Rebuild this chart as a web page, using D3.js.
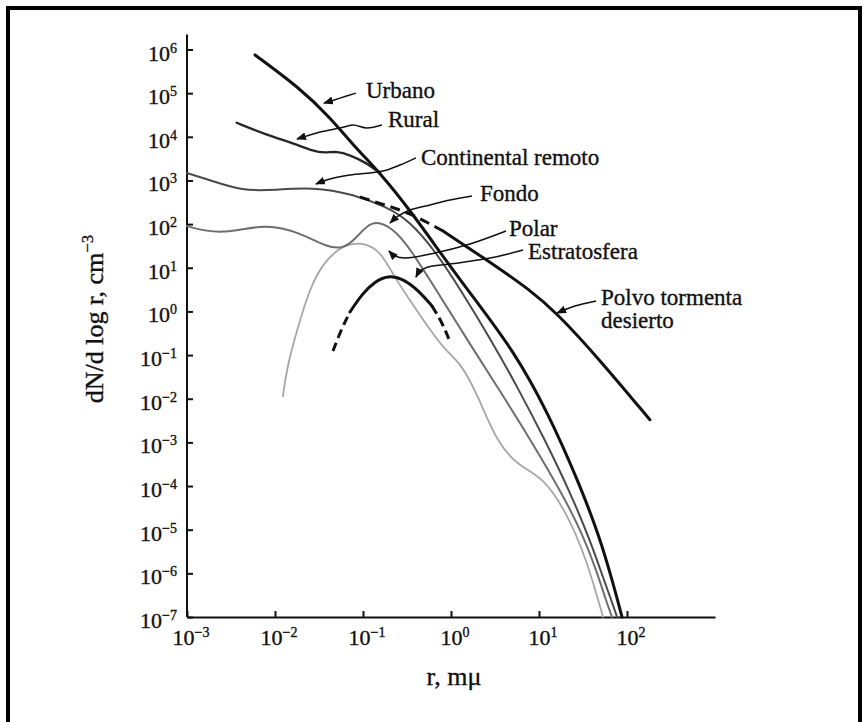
<!DOCTYPE html>
<html>
<head>
<meta charset="utf-8">
<script src="https://cdn.jsdelivr.net/npm/d3@7"></script>
<style>
  body { margin: 0; background: #fff; }
  text { font-family: "Liberation Serif", "Times New Roman", serif; fill: #111; stroke: #111; stroke-width: 0.35; }
</style>
</head>
<body>
<svg id="chart" width="866" height="722"></svg>
<script>
// tick exponents (labels are 10^e)
const xExponents = [-3, -2, -1, 0, 1, 2];
const yExponents = [6, 5, 4, 3, 2, 1, 0, -1, -2, -3, -4, -5, -6, -7];

// series: [r (mμ), dN/dlog r (cm^-3)]
const urbano = [[0.00593, 7.5e5], [0.0192, 1.3e5], [0.0422, 2.8e4], [0.081, 5.8e3], [0.156, 1.5e3],
  [0.342, 210], [0.90, 13.5], [1.97, 1.64], [5.07, 0.13], [12.3, 5.5e-3], [29.2, 1.05e-4],
  [49.3, 6.4e-6], [69.3, 6e-7], [87.8, 1e-7]];
const rural = [[0.00367, 2.1e4], [0.0081, 1.1e4], [0.016, 7.2e3], [0.027, 4.7e3], [0.037, 4.26e3],
  [0.0507, 4.7e3], [0.0711, 3.83e3], [0.105, 2.65e3], [0.156, 1.5e3]];
const continental = [[0.001, 1480], [0.00182, 1020], [0.00433, 573], [0.0095, 603], [0.027, 707],
  [0.0769, 490], [0.187, 246], [0.338, 118], [0.676, 23], [1.33, 2.78], [2.77, 0.246], [5.77, 0.0176],
  [11.7, 1.13e-3], [22.5, 7.3e-5], [38, 5.8e-6], [56.2, 6e-7], [69.3, 1.9e-7], [77, 1e-7]];
const fondo = [[0.001, 90], [0.00237, 56], [0.0081, 106], [0.0192, 62.5], [0.039, 30], [0.0577, 27],
  [0.081, 43], [0.126, 135], [0.219, 81], [0.342, 28.3], [0.75, 2.25], [1.64, 0.179], [3.8, 0.0128],
  [8.55, 9.2e-4], [18.7, 6.2e-5], [31.6, 7.5e-6], [45.6, 1.07e-6], [57.7, 2.4e-7], [67.6, 1e-7]];
const polar = [[0.0123, 0.0115], [0.0137, 0.053], [0.0178, 0.375], [0.025, 3.6], [0.037, 15],
  [0.0624, 35], [0.0975, 38], [0.156, 25.5], [0.231, 5.8], [0.342, 1.8], [0.577, 0.375], [0.9, 0.117],
  [1.26, 0.069], [1.97, 0.0135], [3.33, 9.7e-4], [6.1, 2.7e-4], [11.1, 1.6e-4], [20.8, 2.4e-5],
  [35, 2e-6], [53.4, 1e-7]];
const estratosfera = [[0.0456, 0.124], [0.0562, 0.375], [0.0711, 0.97], [0.0975, 2.5], [0.137, 4.9],
  [0.192, 6.6], [0.277, 5.8], [0.422, 3.1], [0.608, 1.33], [0.79, 0.57], [0.975, 0.2]];
const polvo = [[0.0925, 418], [0.178, 274], [0.342, 180], [0.811, 69.5], [2.77, 13.5], [7.9, 3.1],
  [16, 0.92], [49.3, 0.077], [182, 3.3e-3]];

// where the dashed (uncertain) parts stop / start
const estratosferaSolid = [0.0711, 0.608];
const polvoSolidFrom = 0.811;

// annotation text anchors and leader lines (data coords, arrow at the last point)
const labelText = ['Urbano', 'Rural', 'Continental remoto', 'Fondo', 'Polar', 'Estratosfera', 'Polvo tormenta', 'desierto'];
const labelAt = [[0.108, 7.7e4], [0.192, 1.67e4], [0.456, 2.26e3], [2.14, 338], [4.56, 53.3], [7.5, 15.8], [50.7, 1.4], [50.7, 0.417]];
const leaders = [
  [[0.0832, 1.0e5], [0.0548, 7.7e4], [0.036, 5.9e4]],
  [[0.164, 1.86e4], [0.111, 1.59e4], [0.0769, 1.86e4], [0.0548, 1.59e4], [0.0325, 1.29e4], [0.0178, 8.9e3]],
  [[0.40, 3.3e3], [0.263, 2.26e3], [0.169, 1.65e3], [0.0711, 1.33e3], [0.0422, 1.08e3], [0.0292, 830]],
  [[1.73, 440], [0.975, 357], [0.577, 274], [0.342, 210], [0.25, 153], [0.203, 106]],
  [[4.22, 69.5], [1.64, 35], [0.658, 21.8], [0.30, 16.7], [0.231, 18.6], [0.197, 24.2]],
  [[6.58, 25.5], [2.77, 16.7], [0.975, 12.2], [0.548, 10.4], [0.445, 8.4], [0.40, 6.1]],
  [[44.5, 1.73], [25.6, 1.33], [16.0, 0.92]]
];

const svg = d3.select('#chart');

// page frame
svg.append('rect')
  .attr('x', 8).attr('y', 8)
  .attr('width', 852).attr('height', 730)
  .attr('fill', 'none').attr('stroke', '#000').attr('stroke-width', 4);

const x = d3.scaleLog().domain([1e-3, 1e3]).range([187, 715]);
const y = d3.scaleLog().domain([1e-7, 1e6]).range([617, 49.5]);

// axes
const xAxis = svg.append('g')
  .attr('transform', `translate(0,${y(1e-7)})`)
  .call(d3.axisTop(x).tickValues(xExponents.map(e => 10 ** e)).tickFormat('').tickSizeInner(6).tickSizeOuter(0));
const yAxis = svg.append('g')
  .attr('transform', `translate(${x(1e-3)},0)`)
  .call(d3.axisRight(y).tickValues(yExponents.map(e => 10 ** e)).tickFormat('').tickSizeInner(6).tickSizeOuter(0));
yAxis.select('.domain').remove();
yAxis.append('line')
  .attr('y1', y(2.2e6)).attr('y2', y(1e-7))
  .attr('stroke', '#000');
[xAxis, yAxis].forEach(g => {
  g.selectAll('path, line').attr('stroke', '#111').attr('stroke-width', 2);
});

function powLabel (sel, e) {
  sel.append('tspan').text('10');
  sel.append('tspan')
    .attr('dy', -8)
    .attr('font-size', 14)
    .text(e < 0 ? '\u2212' + Math.abs(e) : String(e));
}

svg.append('g').selectAll('text')
  .data(xExponents)
  .join('text')
  .attr('x', e => x(10 ** e) + 4)
  .attr('y', y(1e-7) + 28)
  .attr('text-anchor', 'middle')
  .attr('font-size', 22)
  .each(function (e) { powLabel(d3.select(this), e); });

svg.append('g').selectAll('text')
  .data(yExponents)
  .join('text')
  .attr('x', x(1e-3) - 10)
  .attr('y', e => y(10 ** e) + 11)
  .attr('text-anchor', 'end')
  .attr('font-size', 22)
  .each(function (e) { powLabel(d3.select(this), e); });

// axis titles
svg.append('text')
  .attr('x', 454).attr('y', 685)
  .attr('text-anchor', 'middle')
  .attr('font-size', 26)
  .text('r, m\u03bc');
const yTitle = svg.append('text')
  .attr('transform', 'translate(103,319) rotate(-90)')
  .attr('text-anchor', 'middle')
  .attr('font-size', 26);
yTitle.append('tspan').text('dN/d log r, cm');
yTitle.append('tspan').attr('dy', -10).attr('font-size', 17).text('\u22123');

// curves
const smooth = d3.line()
  .x(d => x(d[0]))
  .y(d => y(d[1]))
  .curve(d3.curveBasis);
const leaderLine = d3.line()
  .x(d => x(d[0]))
  .y(d => y(d[1]))
  .curve(d3.curveCatmullRom.alpha(0.5));

const plot = svg.append('g').attr('fill', 'none');

function drawCurve (data, color, width, dash) {
  plot.append('path')
    .datum(data)
    .attr('d', smooth)
    .attr('stroke', color)
    .attr('stroke-width', width)
    .attr('stroke-dasharray', dash || null)
    .attr('stroke-linecap', dash ? 'butt' : 'round');
}

drawCurve(polar, '#a6a6a6', 1.8);
drawCurve(fondo, '#6e6e6e', 2);
drawCurve(continental, '#4a4a4a', 2);
drawCurve(rural, '#262626', 2.4);
drawCurve(urbano, '#111', 3);

drawCurve(estratosfera.filter(d => d[0] <= estratosferaSolid[0]), '#111', 3, '9,5');
drawCurve(estratosfera.filter(d => d[0] >= estratosferaSolid[0] && d[0] <= estratosferaSolid[1]), '#111', 3);
drawCurve(estratosfera.filter(d => d[0] >= estratosferaSolid[1]), '#111', 3, '9,5');

drawCurve(polvo.filter(d => d[0] <= polvoSolidFrom), '#111', 3, '10,6');
drawCurve(polvo.filter(d => d[0] >= polvoSolidFrom), '#111', 3);

// leaders with arrowheads
svg.append('defs').append('marker')
  .attr('id', 'arrow')
  .attr('viewBox', '0 0 10 8')
  .attr('refX', 9).attr('refY', 4)
  .attr('markerWidth', 10).attr('markerHeight', 8)
  .attr('markerUnits', 'userSpaceOnUse')
  .attr('orient', 'auto')
  .append('path')
  .attr('d', 'M0,0L10,4L0,8Z')
  .attr('fill', '#111');

svg.append('g').selectAll('path')
  .data(leaders)
  .join('path')
  .attr('d', leaderLine)
  .attr('fill', 'none')
  .attr('stroke', '#111')
  .attr('stroke-width', 1.5)
  .attr('marker-end', 'url(#arrow)');

svg.append('g').selectAll('text')
  .data(labelText)
  .join('text')
  .attr('x', (t, i) => x(labelAt[i][0]))
  .attr('y', (t, i) => y(labelAt[i][1]))
  .attr('font-size', 23)
  .text(t => t);
</script>
</body>
</html>
